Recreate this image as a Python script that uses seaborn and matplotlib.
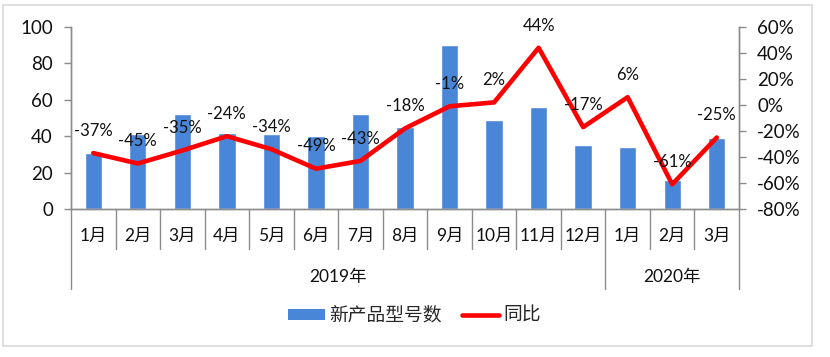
import matplotlib
matplotlib.use("Agg")
import matplotlib.pyplot as plt
import matplotlib.transforms as mtransforms
from matplotlib.patches import Patch, Rectangle
from matplotlib.lines import Line2D
from matplotlib.ticker import FuncFormatter, MultipleLocator
import numpy as np
import pandas as pd
import seaborn as sns

# ---- data ----
keys = ["2019-01", "2019-02", "2019-03", "2019-04", "2019-05", "2019-06", "2019-07",
        "2019-08", "2019-09", "2019-10", "2019-11", "2019-12", "2020-01", "2020-02", "2020-03"]
month_labels = ["1月", "2月", "3月", "4月", "5月", "6月", "7月", "8月", "9月", "10月",
                "11月", "12月", "1月", "2月", "3月"]
years = ["2019年", "2020年"]
year_counts = [12, 3]
new_models = [31, 41, 52, 42, 41, 40, 52, 45, 90, 49, 56, 35, 34, 16, 39]
yoy = [-37, -45, -35, -24, -34, -49, -43, -18, -1, 2, 44, -17, 6, -61, -25]

sns.set_style("white")
FONT = ["Lato", "Noto Sans CJK SC", "DejaVu Sans"]
plt.rcParams["font.family"] = FONT

BAR = "#4A86D8"
RED = "#FF0000"
GRAY = "#8C8C8C"

fig = plt.figure(figsize=(8.3, 3.57), dpi=100)
ax = fig.add_axes([71 / 830, 1 - 209 / 357, (739 - 71) / 830, (209 - 27) / 357])

df = pd.DataFrame({"key": keys, "val": new_models})
sns.barplot(data=df, x="key", y="val", color=BAR, saturation=1, width=0.39, ax=ax, zorder=2)
ax.set_xlim(-0.5, len(keys) - 0.5)
ax.set_ylim(0, 100)
ax.yaxis.set_major_locator(MultipleLocator(20))
ax.set_xlabel("")
ax.set_ylabel("")
ax.set_xticks([])
ax.tick_params(axis="y", labelsize=13.5, length=5, width=1, color=GRAY, direction="out",
               left=True, pad=8, labelcolor="#111111")

ax2 = ax.twinx()
x = np.arange(len(keys))
yoy_frac = np.array(yoy) / 100.0
sns.lineplot(x=x, y=yoy_frac, color=RED, linewidth=3.3, ax=ax2, sort=False, zorder=3)
ax2.set_ylim(-0.8, 0.6)
ax2.yaxis.set_major_locator(MultipleLocator(0.2))
ax2.yaxis.set_major_formatter(FuncFormatter(lambda v, p: f"{int(round(v * 100))}%"))
ax2.tick_params(axis="y", labelsize=13.5, length=5, width=1, color=GRAY, direction="out",
                right=True, pad=8, labelcolor="#111111")
ax2.set_ylabel("")
ax2.set_xlim(-0.5, len(keys) - 0.5)

for a in (ax, ax2):
    a.spines["top"].set_visible(False)
    for s in ["left", "right", "bottom"]:
        a.spines[s].set_color(GRAY)
        a.spines[s].set_linewidth(1)

for xi, v in zip(x, yoy):
    ax2.annotate(f"{v}%", (xi, v / 100.0), xytext=(0, 16), textcoords="offset points",
                 ha="center", va="center", fontsize=12, color="#111111")

# category axis separators and labels
trans = mtransforms.blended_transform_factory(ax.transData, ax.transAxes)
ax_h_px = 209 - 27
short = -(249 - 209) / ax_h_px
long_ = -(289 - 209) / ax_h_px
boundaries = np.arange(len(keys) + 1) - 0.5
year_bounds = np.concatenate([[0], np.cumsum(year_counts)]) - 0.5
for b in boundaries:
    yb = long_ if b in year_bounds else short
    ax.add_line(Line2D([b, b], [0, yb], transform=trans, color=GRAY, lw=1, clip_on=False))
for xi, lab in zip(x, month_labels):
    ax.text(xi, -(236 - 209) / ax_h_px, lab, transform=trans, ha="center", va="center",
            fontsize=12.5, color="#111111")
start = 0
for yr, c in zip(years, year_counts):
    ax.text(start + (c - 1) / 2, -(277 - 209) / ax_h_px, yr, transform=trans,
            ha="center", va="center", fontsize=12.5, color="#111111")
    start += c

# legend
handles = [Patch(facecolor=BAR, edgecolor="none"), Line2D([0], [0], color=RED, lw=3.3)]
fig.legend(handles, ["新产品型号数", "同比"], loc="center", bbox_to_anchor=(0.499, 1 - 315 / 357),
           ncol=2, frameon=False, fontsize=13.5, handlelength=2.0, handleheight=0.55,
           handletextpad=0.2, columnspacing=1.1)

# outer border
fig.patches.append(Rectangle((3 / 830, 1 - 346 / 357), (812 - 3) / 830, (346 - 5) / 357,
                             transform=fig.transFigure, fill=False, edgecolor="#D9D9D9", lw=1.2))

fig.savefig("out.png", dpi=100)
